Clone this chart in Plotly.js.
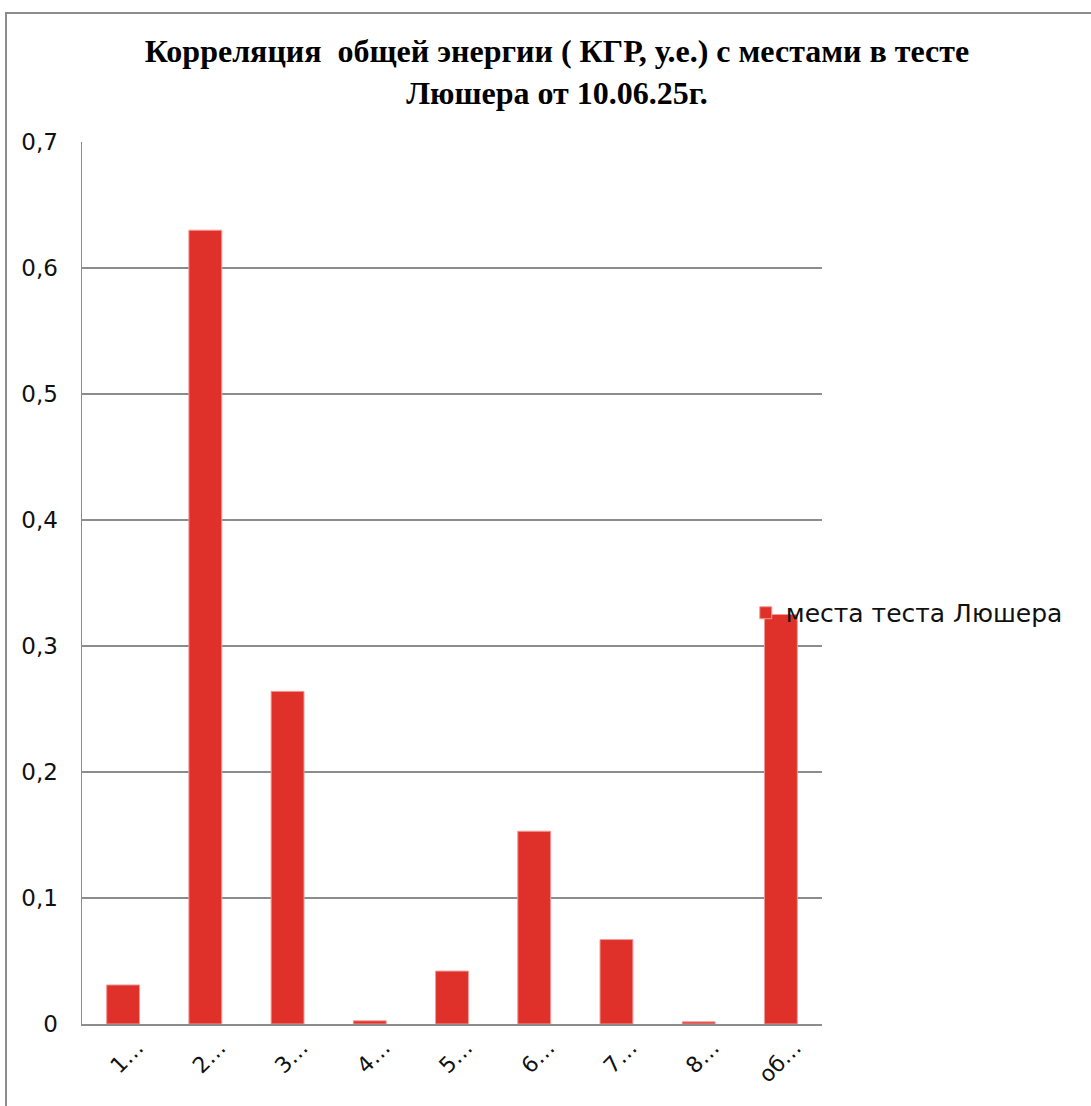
<!DOCTYPE html>
<html>
<head>
<meta charset="utf-8">
<script src="https://cdn.plot.ly/plotly-3.0.1.min.js"></script>
<style>
  html, body { margin: 0; padding: 0; background: #ffffff; overflow: hidden; }
  #wrap { position: relative; width: 1091px; height: 1106px; }
  #chart { position: absolute; left: 0; top: 0; width: 1091px; height: 1106px; }
  #frame { position: absolute; left: 5px; top: 12px; width: 1200px; height: 1200px;
           border: 2px solid #8c8c8c; box-sizing: border-box; pointer-events: none; }
</style>
</head>
<body>
<div id="wrap">
  <div id="chart"></div>
  <div id="frame"></div>
</div>
<script>
const categories = ["1…", "2…", "3…", "4…", "5…", "6…", "7…", "8…", "об…"];
const values = [0.031, 0.630, 0.264, 0.0025, 0.042, 0.153, 0.067, 0.0017, 0.325];
const seriesName = "места теста Люшера";
const yTicks = [0, 0.1, 0.2, 0.3, 0.4, 0.5, 0.6, 0.7];
const titleText = "Корреляция  общей энергии ( КГР, у.е.) с местами в тесте<br>Люшера от 10.06.25г.";

const trace = {
  type: "bar",
  x: categories,
  y: values,
  name: seriesName,
  showlegend: true,
  marker: { color: "#e0302a", line: { color: "#f29a96", width: 1 } },
  hoverinfo: "x+y"
};

const sansFamily = "'DejaVu Sans', 'Open Sans', sans-serif";

const layout = {
  width: 1091,
  height: 1106,
  margin: { l: 82, r: 269, t: 142, b: 82, pad: 0 },
  paper_bgcolor: "rgba(0,0,0,0)",
  plot_bgcolor: "#ffffff",
  separators: ", ",
  bargap: 0.6,
  title: {
    text: titleText,
    font: { family: "'Liberation Serif', 'Times New Roman', serif", size: 32, color: "#000000", weight: "bold" },
    xref: "container",
    x: 0.5105,
    xanchor: "center",
    yref: "container",
    y: 0.944,
    yanchor: "middle"
  },
  xaxis: {
    type: "category",
    tickangle: -45,
    tickfont: { family: sansFamily, size: 22, color: "#111111" },
    showgrid: false,
    showline: true,
    linecolor: "#8c8c8c",
    linewidth: 2,
    ticks: "",
    ticklabelstandoff: 0,
    ticklabelshift: 14,
    fixedrange: true
  },
  yaxis: {
    range: [0, 0.7],
    tickvals: yTicks,
    tickfont: { family: sansFamily, size: 23, color: "#111111" },
    showgrid: true,
    gridcolor: "#8c8c8c",
    gridwidth: 1.3,
    showline: true,
    linecolor: "#8c8c8c",
    linewidth: 1.5,
    zeroline: false,
    ticks: "",
    ticklabelstandoff: 18,
    fixedrange: true
  },
  legend: {
    x: 0.897,
    xanchor: "left",
    y: 0.466,
    yanchor: "middle",
    bgcolor: "rgba(0,0,0,0)",
    font: { family: sansFamily, size: 25, color: "#111111" },
    itemwidth: 30
  },
  showlegend: true
};

Plotly.newPlot("chart", [trace], layout, { displayModeBar: false, staticPlot: true });
</script>
</body>
</html>
